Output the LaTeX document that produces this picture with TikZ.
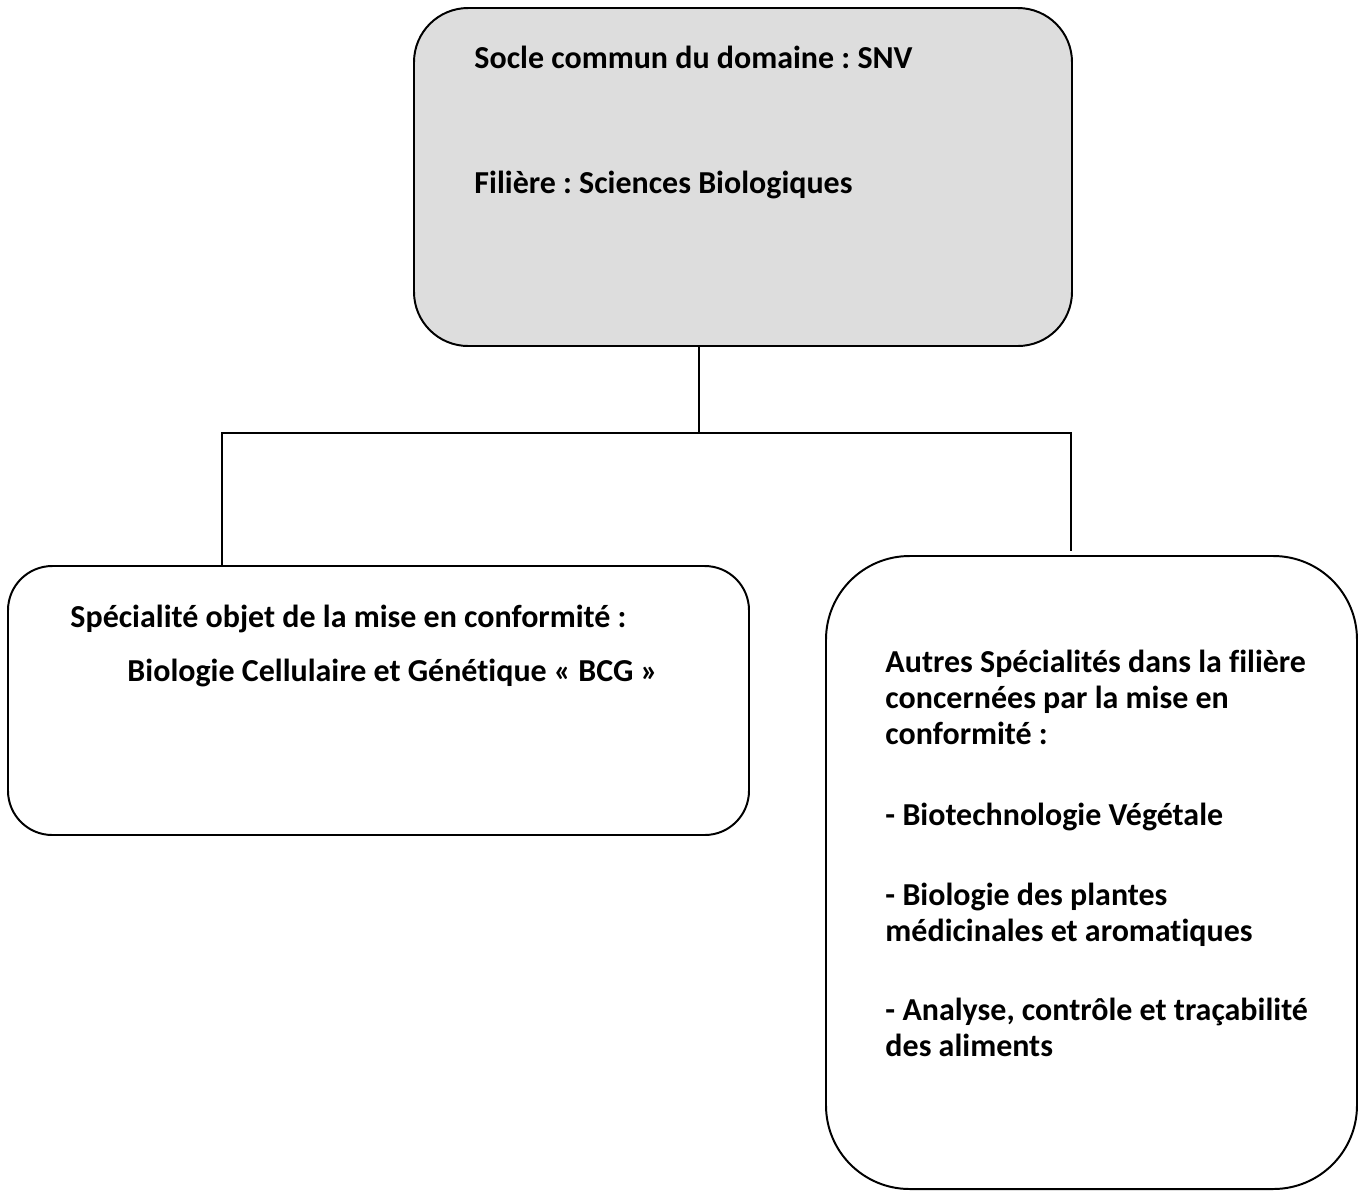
\documentclass[tikz,border=0pt]{standalone}
\usepackage{fontspec}
\setmainfont{Carlito}[Ligatures=NoCommon]
\frenchspacing
\definecolor{soclegray}{RGB}{221,221,221}

\begin{document}
\begin{tikzpicture}[
  x=0.4065pt, y=-0.4065pt,
  box/.style={draw, line width=0.8pt, inner sep=0pt, outer sep=0pt},
  txt/.style={anchor=base west, inner sep=0pt, font=\fontsize{13}{16}\selectfont\bfseries},
  link/.style={line width=0.8pt}]

  \useasboundingbox (0,0) rectangle (1360,1191);

  \node[box, fill=soclegray, rounded corners=22pt,
    minimum width=658*0.4065pt, minimum height=338*0.4065pt] (socle) at (743,177) {};
  \node[box, rounded corners=18pt,
    minimum width=741*0.4065pt, minimum height=269*0.4065pt] (bcg) at (378.5,700.5) {};
  \node[box, rounded corners=34pt,
    minimum width=531*0.4065pt, minimum height=633*0.4065pt] (autres) at (1091.5,872.5) {};

  \node[txt] (s1) at (474,68) {Socle commun du domaine : SNV};
  \node[txt] (s2) at (474,193) {Filière : Sciences Biologiques};

  \node[txt] (b1) at (70,627) {Spécialité objet de la mise en conformité :};
  \node[txt] (b2) at (127,681) {Biologie Cellulaire et Génétique « BCG »};

  \node[txt] (a1) at (885,672) {Autres Spécialités dans la filière};
  \node[txt] (a2) at (885,708) {concernées par la mise en};
  \node[txt] (a3) at (885,744) {conformité :};
  \node[txt] (a4) at (885,825) {- Biotechnologie Végétale};
  \node[txt] (a5) at (885,905) {- Biologie des plantes};
  \node[txt] (a6) at (885,941) {médicinales et aromatiques};
  \node[txt] (a7) at (885,1020) {- Analyse, contrôle et traçabilité};
  \node[txt] (a8) at (885,1056) {des aliments};

  \coordinate (jt) at (699,433);
  \coordinate (jl) at (222,433);
  \coordinate (jr) at (1071,433);
  \coordinate (je) at (1071,551);

  \draw[link] (jt |- socle.south) -- (jt);
  \draw[link] (jl |- bcg.north) -- (jl) -- (jr) -- (je);
\end{tikzpicture}
\end{document}
